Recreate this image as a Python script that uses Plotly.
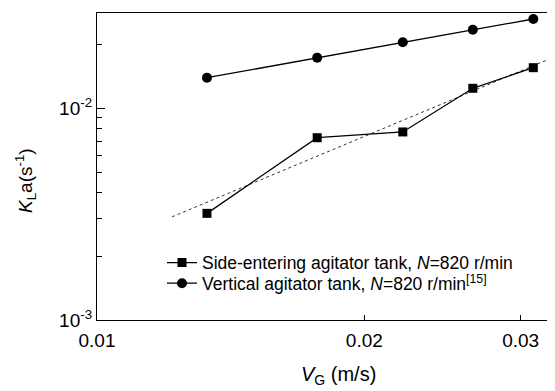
import plotly.graph_objects as go

vg = [0.0133, 0.0177, 0.0221, 0.0265, 0.0310]
kla_side = [0.00319, 0.00726, 0.00773, 0.01243, 0.01555]
kla_vertical = [0.01395, 0.01734, 0.0205, 0.0235, 0.0264]
fit_x = [0.01215, 0.0328]
fit_y = [0.00307, 0.01753]

x_ticks = [0.01, 0.02, 0.03]
x_ticktext = ["0.01", "0.02", "0.03"]
y_ticks = [0.001, 0.01]
y_ticktext = ["10<sup>-3</sup>", "10<sup>-2</sup>"]
y_minor = [0.002, 0.003, 0.004, 0.005, 0.006, 0.007, 0.008, 0.009, 0.02]

FONT = "Arial, Liberation Sans, sans-serif"

# page body has an 8px default margin; figure is sized/offset to compensate
OFF = 8
W, H = 555 - OFF, 391 - OFF
L, T, B = 97 - OFF, 13 - OFF, 71
PW, PH = W - L, H - T - B


def px_x(p):
    return (p - OFF - L) / PW


def px_y(p):
    return (H - B - (p - OFF)) / PH


fig = go.Figure()
fig.add_trace(go.Scatter(x=fit_x, y=fit_y, mode="lines",
                         line=dict(color="#333333", width=1, dash="dot"),
                         showlegend=False, hoverinfo="skip"))
fig.add_trace(go.Scatter(x=vg, y=kla_side, mode="lines+markers",
                         name="Side-entering agitator tank, <i>N</i>=820 r/min",
                         line=dict(color="black", width=1.3),
                         marker=dict(symbol="square", size=9, color="black"),
                         legend="legend"))
fig.add_trace(go.Scatter(x=vg, y=kla_vertical, mode="lines+markers",
                         name="Vertical agitator tank, <i>N</i>=820 r/min<sup>[15]</sup>",
                         line=dict(color="black", width=1.3),
                         marker=dict(symbol="circle", size=10, color="black"),
                         legend="legend2"))

leg_common = dict(xanchor="left", yanchor="middle", bgcolor="rgba(0,0,0,0)",
                  font=dict(size=17.5, family=FONT, color="black"))

fig.update_layout(
    width=W, height=H,
    margin=dict(l=L, r=0, t=T, b=B, autoexpand=False),
    paper_bgcolor="white", plot_bgcolor="white",
    font=dict(family=FONT, color="black", size=18),
    showlegend=True,
    legend=dict(x=px_x(162), y=px_y(262.7), **leg_common),
    legend2=dict(x=px_x(162), y=px_y(283.3), **leg_common),
    xaxis=dict(type="log", range=[-2, -1.4842], automargin=False,
               tickmode="array", tickvals=x_ticks, ticktext=x_ticktext,
               ticks="inside", ticklen=5, tickwidth=1, tickcolor="black",
               ticklabelstandoff=3,
               showline=True, linecolor="black", linewidth=1.3, mirror=True,
               showgrid=False, zeroline=False, tickfont=dict(size=19)),
    yaxis=dict(type="log", range=[-3, -1.55], automargin=False,
               tickmode="array", tickvals=y_ticks, ticktext=y_ticktext,
               ticks="inside", ticklen=8, tickwidth=1, tickcolor="black",
               minor=dict(tickmode="array", tickvals=y_minor, ticks="inside",
                          ticklen=5, tickwidth=1, tickcolor="black", showgrid=False),
               showline=True, linecolor="black", linewidth=1.3, mirror=False,
               showgrid=False, zeroline=False, tickfont=dict(size=19)),
    annotations=[
        dict(text="<i>V</i><sub>G</sub> (m/s)", xref="paper", yref="paper",
             x=px_x(338), y=px_y(375), xanchor="center", yanchor="middle",
             showarrow=False, font=dict(size=20)),
        dict(text="<i>K</i><sub>L</sub>a(s<sup>-1</sup>)", xref="paper", yref="paper",
             x=px_x(25), y=px_y(181), xanchor="center", yanchor="middle",
             textangle=-90, showarrow=False, font=dict(size=19)),
    ],
)

fig.write_html("out.html")
